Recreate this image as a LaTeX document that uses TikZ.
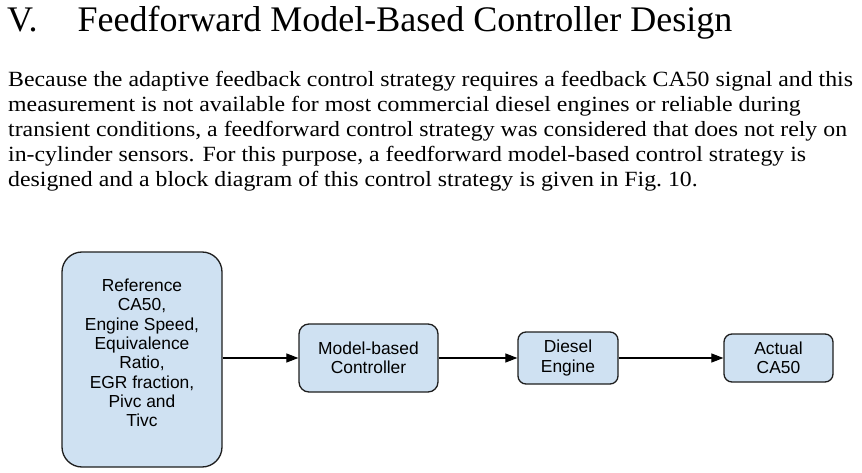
\documentclass[tikz,border=0pt]{standalone}
\usepackage{fontspec}
\setmainfont{Liberation Serif}
\newfontfamily\diagfont{Liberation Sans}
\usetikzlibrary{arrows.meta}
\definecolor{boxfill}{RGB}{207,225,242}
\definecolor{boxline}{RGB}{30,30,30}
\newcommand{\paraline}[1]{\scalebox{1.097}[1]{#1}}
\tikzset{
  blk/.style={draw=boxline, fill=boxfill, line width=1.3pt, align=center,
    font=\diagfont\fontsize{17.4}{19.3}\selectfont, inner sep=0pt},
  blktext/.style={align=center, font=\diagfont\fontsize{17.4}{19.3}\selectfont, inner sep=0pt},
  conn/.style={draw=black, line width=1.2pt, -{Triangle[length=12pt,width=9pt]}},
  para/.style={anchor=base west, inner sep=0pt, font=\fontsize{21.7}{25}\selectfont},
}
\begin{document}
\begin{tikzpicture}[x=1pt,y=-1pt]
\useasboundingbox (0,0) rectangle (862,473);
\node[anchor=base west, inner sep=0pt, font=\fontsize{36}{40}\selectfont] (title) at (7,32) {V.\hspace{40pt}Feedforward Model-Based Controller Design};
\node[para] (l1) at (8,87) {\paraline{Because the adaptive feedback control strategy requires a feedback CA50 signal and this}};
\node[para] (l2) at (8,112) {\paraline{measurement is not available for most commercial diesel engines or reliable during}};
\node[para] (l3) at (8,137) {\paraline{transient conditions, a feedforward control strategy was considered that does not rely on}};
\node[para] (l4) at (8,162) {\paraline{in-cylinder sensors. For this purpose, a feedforward model-based control strategy is}};
\node[para] (l5) at (8,187) {\paraline{designed and a block diagram of this control strategy is given in Fig.~10.}};

\node[blk, rounded corners=20pt, minimum width=160pt, minimum height=215pt] (ref) at (142,359.5) {};
\node[blktext] (reftext) at (142,353)
  {Reference\\CA50,\\Engine Speed,\\Equivalence\\Ratio,\\EGR fraction,\\Pivc and\\Tivc};
\node[blk, rounded corners=10pt, minimum width=139pt, minimum height=68pt] (ctrl) at (368.5,358)
  {Model-based\\Controller};
\node[blk, rounded corners=8pt, minimum width=100pt, minimum height=52pt] (eng) at (568,358)
  {Diesel\\Engine};
\node[blk, rounded corners=8pt, minimum width=109pt, minimum height=48pt] (out) at (778.5,358)
  {Actual\\CA50};

\draw[conn] (ref.east |- ctrl.west) -- (ctrl.west);
\draw[conn] (ctrl.east) -- (eng.west);
\draw[conn] (eng.east) -- (out.west);
\end{tikzpicture}
\end{document}
